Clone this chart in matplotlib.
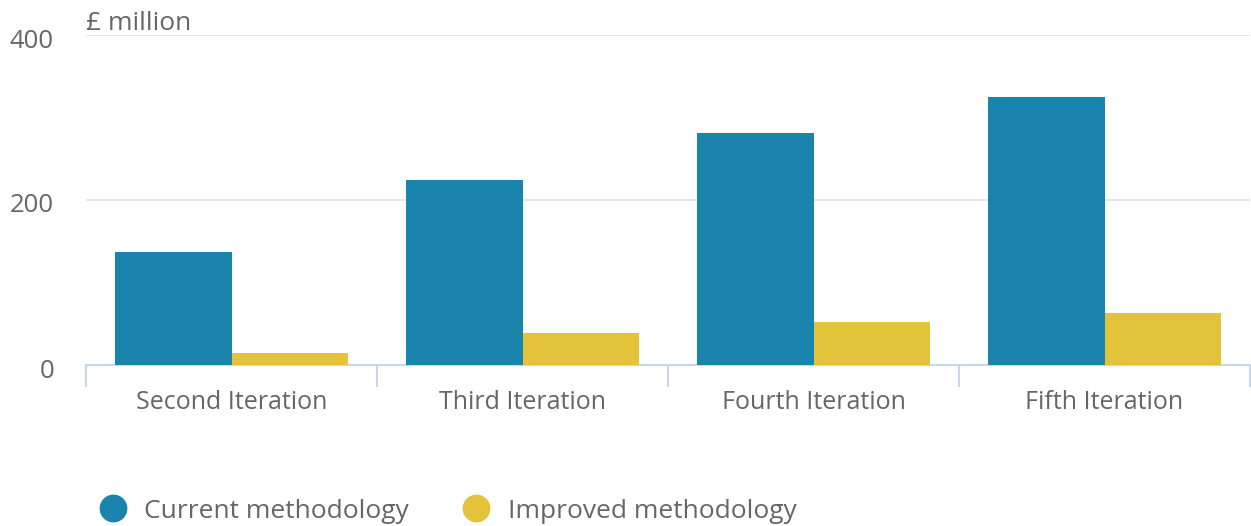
import matplotlib
matplotlib.use("Agg")
import matplotlib.pyplot as plt
import matplotlib.transforms as mtransforms
import numpy as np
from matplotlib.lines import Line2D

categories = ["Second Iteration", "Third Iteration", "Fourth Iteration", "Fifth Iteration"]
current = [137, 224, 281, 325]
improved = [14, 39, 52, 63]
series_names = ["Current methodology", "Improved methodology"]
colors = ["#1a84ad", "#e3c33a"]

plt.rcParams['font.family'] = ['Open Sans', 'DejaVu Sans']

fig = plt.figure(figsize=(12.51, 5.26), dpi=100)
ax = fig.add_axes([86 / 1251, 161 / 526, 1164 / 1251, 330 / 526])

x = np.arange(len(categories))
w = 0.4
ax.bar(x - w / 2, current, w, color=colors[0], zorder=3)
ax.bar(x + w / 2, improved, w, color=colors[1], zorder=3)

ax.set_xlim(-0.5, len(categories) - 0.5)
ax.set_ylim(0, 400)
ax.set_yticks([0, 200, 400])
ax.yaxis.grid(True, color="#e6e6e6", linewidth=1.5, zorder=0)
ax.tick_params(axis="y", length=0, labelsize=18.5, labelcolor="#666666", pad=23)
shift = mtransforms.ScaledTranslation(0, -3 / 100, fig.dpi_scale_trans)
for lbl in ax.get_yticklabels():
    lbl.set_va("center_baseline")
    lbl.set_transform(lbl.get_transform() + shift)

ax.set_xticks(x)
ax.set_xticklabels(categories)
ax.tick_params(axis="x", length=0, labelsize=18, labelcolor="#666666", pad=18)
ax.set_xticks(np.arange(-0.5, len(categories)), minor=True)
ax.tick_params(axis="x", which="minor", length=16, width=1.5, color="#ccd6eb")

for s in ["top", "right", "left"]:
    ax.spines[s].set_visible(False)
ax.spines["bottom"].set_color("#ccd6eb")
ax.spines["bottom"].set_linewidth(1.5)

fig.text(86 / 1251, 1 - 23 / 526, "£ million", fontsize=19, color="#666666", va="center", ha="left")

handles = [Line2D([], [], marker="o", linestyle="none", markersize=19, color=c) for c in colors]
fig.legend(handles, series_names, loc="center left", bbox_to_anchor=(100 / 1251, 1 - 511 / 526),
           ncol=2, frameon=False, fontsize=19, labelcolor="#666666", handletextpad=0.68,
           columnspacing=2.05, handlelength=1.0, borderpad=0, borderaxespad=0)

fig.savefig("out.png", dpi=100)
